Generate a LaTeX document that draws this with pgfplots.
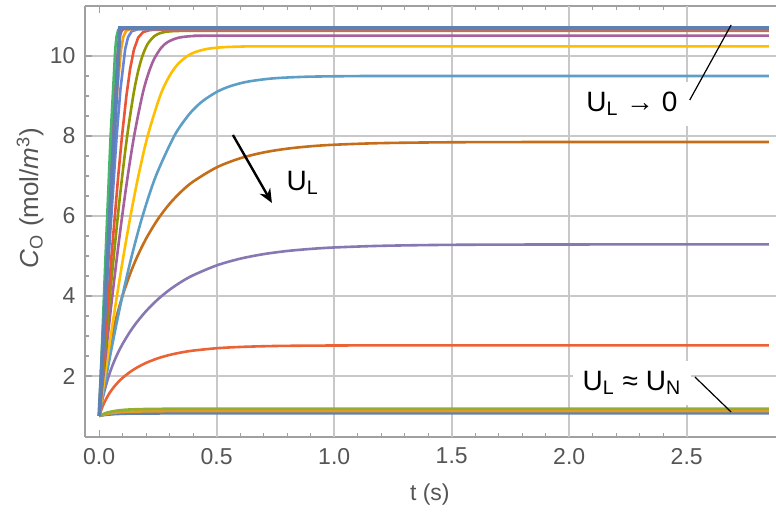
\documentclass[border=0pt]{standalone}
\usepackage{fontspec}
\setmainfont{Liberation Sans}
\usepackage{pgfplots}
\pgfplotsset{compat=1.18}
\usetikzlibrary{arrows.meta}
\definecolor{c1}{HTML}{5E81B5}
\definecolor{c2}{HTML}{E19C24}
\definecolor{c3}{HTML}{8FB032}
\definecolor{c4}{HTML}{EB6235}
\definecolor{c5}{HTML}{8778B3}
\definecolor{c6}{HTML}{C56E1A}
\definecolor{c7}{HTML}{5D9EC7}
\definecolor{c8}{HTML}{FFBF00}
\definecolor{c9}{HTML}{A5609D}
\definecolor{c10}{HTML}{929600}
\definecolor{c11}{HTML}{E95536}
\definecolor{c12}{HTML}{6685D9}
\definecolor{c13}{HTML}{F89F13}
\definecolor{c14}{HTML}{BC5B80}
\definecolor{c15}{HTML}{47B66D}
\definecolor{tickgray}{HTML}{555555}
\definecolor{framegray}{HTML}{A0A0A0}
\definecolor{gridgray}{HTML}{C8C8C8}
\begin{document}
\begin{tikzpicture}
\begin{axis}[name=ax, scale only axis, width=345.5pt, height=215.5pt,
  xmin=-0.0604, xmax=2.88, ymin=0.475, ymax=11.25,
  axis x line*=box, axis y line*=left,
  xtick={0,0.5,1,1.5,2,2.5}, ytick={2,4,6,8,10},
  minor x tick num=4, minor y tick num=3,
  tick align=inside, major tick length=3.5pt, minor tick length=2pt,
  axis line style={framegray, line width=0.6pt},
  tick style={framegray, line width=0.6pt},
  ymajorgrids,
  extra x ticks={0.5,1,1.5,2,2.5}, extra x tick labels={},
  extra x tick style={grid=major, major tick length=0pt},
  major grid style={gridgray, line width=0.85pt},
  /pgf/number format/assume math mode=true,
  ticklabel style={font=\fontsize{11.5}{13}\selectfont, text=tickgray},
  x tick label style={/pgf/number format/fixed, /pgf/number format/fixed zerofill, /pgf/number format/precision=1, yshift=-2pt},
  y tick label style={xshift=-1.2pt},
  xlabel={t (s)},
  xlabel style={at={(axis description cs:0.499,-0.1346)}, anchor=center, font=\fontsize{11.5}{13}\selectfont, text=tickgray},
  ylabel={\textit{C}\textsubscript{O} (mol/\textit{m}\textsuperscript{3})},
  ylabel style={at={(axis description cs:-0.0795,0.5545)}, anchor=center, font=\fontsize{13}{15}\selectfont, text=tickgray},
  every axis plot/.append style={line width=1.3pt},
]
% U_L ~ U_N cluster
\addplot[c1] coordinates {(0,1) (0.03,1.03) (0.07,1.048) (0.12,1.058) (0.2,1.063) (0.4,1.065) (2.85,1.065)};
\addplot[c2, smooth] coordinates {(0,1) (0.03,1.05) (0.07,1.085) (0.12,1.105) (0.2,1.115) (0.35,1.12) (2.85,1.12)};
\addplot[c3, smooth] coordinates {(0,1) (0.03,1.08) (0.07,1.13) (0.12,1.16) (0.2,1.175) (0.35,1.183) (0.6,1.185) (2.85,1.185)};
% intermediate
\addplot[c4, smooth] coordinates {(0,1) (0.01,1.171) (0.02,1.313) (0.04,1.536) (0.06,1.706) (0.08,1.842) (0.1,1.955) (0.13,2.095) (0.16,2.208) (0.2,2.329) (0.25,2.443) (0.3,2.527) (0.35,2.589) (0.4,2.635) (0.5,2.694) (0.6,2.726) (0.7,2.744) (0.8,2.754) (1.0,2.762) (1.3,2.765) (2.85,2.765)};
\addplot[c5, smooth] coordinates {(0,1) (0.01,1.309) (0.02,1.571) (0.04,1.989) (0.06,2.314) (0.08,2.58) (0.1,2.806) (0.13,3.096) (0.16,3.343) (0.2,3.625) (0.25,3.918) (0.3,4.158) (0.35,4.356) (0.4,4.519) (0.5,4.765) (0.6,4.933) (0.7,5.047) (0.8,5.125) (0.9,5.177) (1.0,5.213) (1.2,5.254) (1.5,5.279) (2.0,5.288) (2.85,5.29)};
\addplot[c6, smooth] coordinates {(0,1) (0.01,1.476) (0.02,1.891) (0.04,2.585) (0.06,3.147) (0.08,3.615) (0.1,4.017) (0.13,4.528) (0.16,4.959) (0.2,5.438) (0.25,5.922) (0.3,6.308) (0.35,6.615) (0.4,6.861) (0.5,7.216) (0.6,7.443) (0.7,7.589) (0.8,7.683) (0.9,7.743) (1.0,7.781) (1.2,7.822) (1.5,7.843) (2.0,7.85) (2.85,7.85)};
\addplot[c7, smooth] coordinates {(0,1) (0.0304,2) (0.0631,3) (0.0987,4) (0.1385,5) (0.1846,6) (0.2412,7) (0.3194,8) (0.3771,8.5) (0.4128,8.73) (0.4463,8.9) (0.5029,9.11) (0.56,9.25) (0.6334,9.36) (0.7396,9.44) (0.8763,9.48) (1.048,9.495) (1.3,9.5) (2.85,9.5)};
\addplot[c8, smooth] coordinates {(0,1) (0.0242,2) (0.0492,3) (0.0754,4) (0.1032,5) (0.1332,6) (0.1667,7) (0.2062,8) (0.2591,9) (0.2989,9.5) (0.3354,9.8) (0.3755,10) (0.4097,10.1) (0.4622,10.18) (0.5292,10.22) (0.613,10.235) (0.8,10.24) (2.85,10.24)};
\addplot[c9, smooth] coordinates {(0,1) (0.018,2) (0.0366,3) (0.0559,4) (0.0762,5) (0.0978,6) (0.1215,7) (0.1486,8) (0.1827,9) (0.2058,9.5) (0.2316,9.9) (0.2631,10.2) (0.2919,10.35) (0.3331,10.45) (0.378,10.49) (0.4345,10.505) (0.6,10.51) (2.85,10.51)};
\addplot[c10, smooth] coordinates {(0,1) (0.0148,2) (0.0457,4) (0.0794,6) (0.0981,7) (0.1191,8) (0.1447,9) (0.165,9.6) (0.184,10) (0.2062,10.3) (0.2356,10.5) (0.2643,10.58) (0.2997,10.615) (0.3585,10.628) (0.5,10.63) (2.85,10.63)};
% fast ones
\addplot[c11] coordinates {(0,1) (0.0255,3) (0.0522,5) (0.081,7) (0.0971,8) (0.1157,9) (0.1311,9.66) (0.1478,10.16) (0.166,10.46) (0.1872,10.6) (0.217,10.65) (0.3,10.66) (2.85,10.66)};
\addplot[c12] coordinates {(0,1) (0.0404,5) (0.0743,8) (0.0905,9.17) (0.1106,10.17) (0.1228,10.47) (0.1386,10.62) (0.163,10.665) (0.25,10.67) (2.85,10.67)};
\addplot[c13] coordinates {(0,1) (0.0349,5) (0.0637,8) (0.0773,9.18) (0.0934,10.18) (0.1028,10.48) (0.1146,10.63) (0.1327,10.675) (0.2,10.68) (2.85,10.68)};
\addplot[c14] coordinates {(0,1) (0.0305,5) (0.0554,8) (0.0797,10.185) (0.0868,10.485) (0.0968,10.645) (0.1085,10.68) (0.2,10.685) (2.85,10.685)};
\addplot[c15] coordinates {(0,1) (0.027,5) (0.0486,8) (0.0686,10.19) (0.0739,10.49) (0.0809,10.65) (0.0889,10.685) (0.15,10.69) (2.85,10.69)};
\addplot[c1, line width=1.9pt] coordinates {(0,1) (0.088,10.7) (2.85,10.7)};
% annotations
\node[fill=white, inner xsep=7pt, inner ysep=5pt, font=\fontsize{14}{16}\selectfont] at (axis cs:2.267,8.8) {U\textsubscript{L} → 0};
\draw[black, line width=0.6pt] (axis cs:2.513,8.9) -- (axis cs:2.689,10.775);
\node[fill=white, inner xsep=5pt, inner ysep=5pt, font=\fontsize{14}{16}\selectfont] at (axis cs:2.267,1.825) {U\textsubscript{L} ≈ U\textsubscript{N}};
\draw[black, line width=0.6pt] (axis cs:2.535,1.975) -- (axis cs:2.689,1.1);
\draw[black, line width=1.2pt, -{Stealth[length=7pt,width=6pt]}] (axis cs:0.569,8.025) -- (axis cs:0.735,6.325);
\node[font=\fontsize{14}{16}\selectfont] at (axis cs:0.866,6.83) {U\textsubscript{L}};
\end{axis}
\pgfresetboundingbox
\path[use as bounding box] (ax.south west) ++(-42.5pt,-40pt) rectangle ++(388pt,258.5pt);
\end{tikzpicture}
\end{document}
